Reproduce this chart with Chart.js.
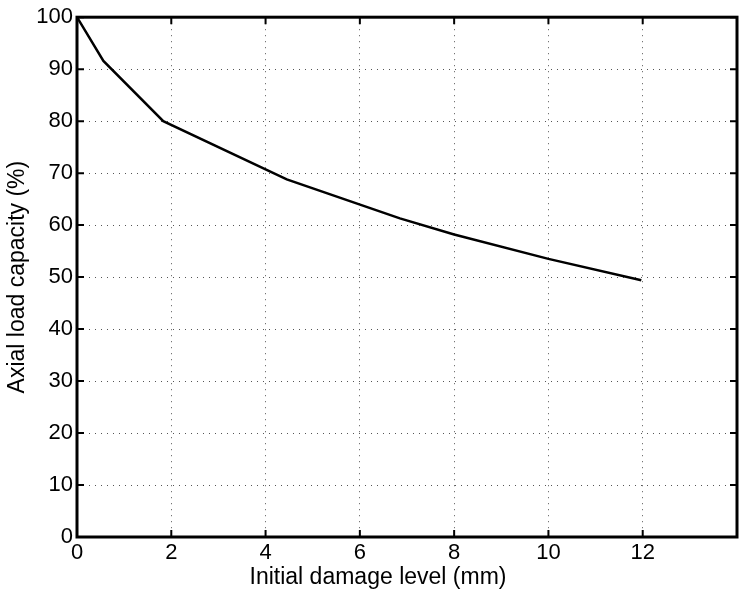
<!DOCTYPE html>
<html>
<head>
<meta charset="utf-8">
<script src="https://cdn.jsdelivr.net/npm/chart.js@4.4.1/dist/chart.umd.min.js"></script>
<style>
  html, body { margin: 0; padding: 0; background: #fff; }
  #wrap { width: 740px; height: 597px; }
</style>
</head>
<body>
<div id="wrap"><canvas id="myChart" width="740" height="597"></canvas></div>
<script>
// values
const damage = [0, 0.56, 1.83, 4.45, 6.85, 8.0, 10.0, 11.97];
const capacity = [100, 91.6, 80.0, 68.8, 61.3, 58.2, 53.5, 49.4];
const xTicks = [0, 2, 4, 6, 8, 10, 12];
const yTicks = [0, 10, 20, 30, 40, 50, 60, 70, 80, 90, 100];
const xTitle = 'Initial damage level (mm)';
const yTitle = 'Axial load capacity (%)';

const FONT = '"Liberation Sans", Arial, Helvetica, sans-serif';

// matlab style box with inward ticks + axis titles
const boxPlugin = {
    id: 'boxPlugin',
    afterDraw(chart) {
        const { ctx, chartArea: a, scales } = chart;
        const x = scales.x, y = scales.y;
        ctx.save();
        ctx.strokeStyle = '#000';
        ctx.lineWidth = 2;
        xTicks.forEach(v => {
            const px = x.getPixelForValue(v);
            ctx.beginPath();
            ctx.moveTo(px, a.bottom); ctx.lineTo(px, a.bottom - 7);
            ctx.moveTo(px, a.top); ctx.lineTo(px, a.top + 7);
            ctx.stroke();
        });
        yTicks.forEach(v => {
            const py = y.getPixelForValue(v);
            ctx.beginPath();
            ctx.moveTo(a.left, py); ctx.lineTo(a.left + 7, py);
            ctx.moveTo(a.right, py); ctx.lineTo(a.right - 7, py);
            ctx.stroke();
        });
        ctx.lineWidth = 3;
        ctx.strokeRect(a.left, a.top, a.right - a.left, a.bottom - a.top);

        ctx.fillStyle = '#000';
        ctx.font = '23px ' + FONT;
        ctx.textAlign = 'center';
        ctx.textBaseline = 'alphabetic';
        ctx.fillText(xTitle, 378, 584);
        ctx.translate(24, (a.top + a.bottom) / 2);
        ctx.rotate(-Math.PI / 2);
        ctx.fillText(yTitle, 0, 0);
        ctx.restore();
    }
};

new Chart(document.getElementById('myChart'), {
    type: 'line',
    data: {
        datasets: [{
            data: damage.map((d, i) => ({ x: d, y: capacity[i] })),
            borderColor: '#000',
            borderWidth: 2.5,
            pointRadius: 0,
            tension: 0,
            fill: false
        }]
    },
    options: {
        responsive: false,
        animation: false,
        layout: { padding: { top: 17, right: 3, left: 0, bottom: 0 } },
        plugins: { legend: { display: false }, tooltip: { enabled: false } },
        scales: {
            x: {
                type: 'linear',
                min: 0,
                max: 14,
                afterFit(s) { s.height = 60; },
                afterBuildTicks(s) { s.ticks = xTicks.concat([14]).map(v => ({ value: v })); },
                ticks: {
                    color: '#000',
                    font: { family: FONT, size: 22 },
                    padding: 3,
                    maxRotation: 0,
                    callback: v => (v === 14 ? '' : v)
                },
                grid: { color: '#555', lineWidth: 1, drawTicks: false },
                border: { display: false, dash: [1, 5] }
            },
            y: {
                min: 0,
                max: 100,
                afterFit(s) { s.width = 77; },
                afterBuildTicks(s) { s.ticks = yTicks.map(v => ({ value: v })); },
                ticks: {
                    color: '#000',
                    font: { family: FONT, size: 22 },
                    padding: 4
                },
                grid: { color: '#555', lineWidth: 1, drawTicks: false },
                border: { display: false, dash: [1, 5] }
            }
        }
    },
    plugins: [boxPlugin]
});
</script>
</body>
</html>
